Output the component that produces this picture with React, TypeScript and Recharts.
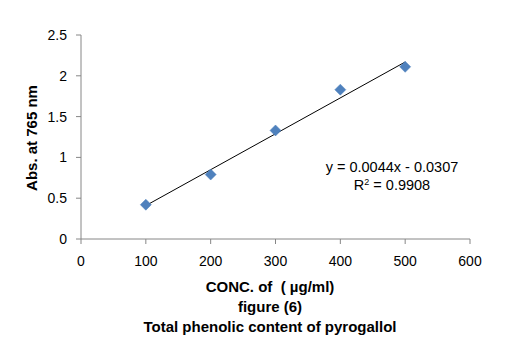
import React from "react";
import { ScatterChart, Scatter, XAxis, YAxis } from "recharts";

const concValues = [100, 200, 300, 400, 500];
const absValues = [0.42, 0.79, 1.33, 1.83, 2.11];
const xTicks = [0, 100, 200, 300, 400, 500, 600];
const yTicks = [0, 0.5, 1, 1.5, 2, 2.5];
const trendX = [100, 500];
const trendY = [0.4093, 2.1693];
const equationText = "y = 0.0044x - 0.0307";
const r2Value = "0.9908";
const xTitle = "CONC. of  ( µg/ml)";
const figureLabel = "figure (6)";
const captionText = "Total phenolic content of pyrogallol";
const yTitle = "Abs. at 765 nm";

const points = concValues.map((x, i) => ({ x, y: absValues[i] }));
const trend = trendX.map((x, i) => ({ x, y: trendY[i] }));

const FONT = "'Liberation Sans', Arial, sans-serif";
const AXIS = "#868686";

const Diamond = (props: any) => {
  const { cx, cy } = props;
  const r = 5.5;
  return (
    <polygon
      points={`${cx},${cy - r} ${cx + r},${cy} ${cx},${cy + r} ${cx - r},${cy}`}
      fill="#4F81BD"
      stroke="#4A7EBB"
      strokeWidth={0.5}
    />
  );
};

const YTitle = (props: any) => {
  const vb = props.viewBox || {};
  const x = vb.x + 31;
  const y = vb.y + vb.height / 2 + 1;
  return (
    <text
      x={x}
      y={y}
      transform={`rotate(-90, ${x}, ${y})`}
      textAnchor="middle"
      dominantBaseline="central"
      fontFamily={FONT}
      fontWeight="bold"
      fontSize={15}
      fill="#000"
    >
      {yTitle}
    </text>
  );
};

export default function App() {
  return (
    <div style={{ position: "absolute", left: 0, top: 0, width: 527, height: 346, background: "#fff" }}>
      <ScatterChart
        width={527}
        height={346}
        margin={{ top: 35, right: 57, bottom: 77, left: 0 }}
      >
        <XAxis
          type="number"
          dataKey="x"
          domain={[0, 600]}
          ticks={xTicks}
          interval={0}
          height={30}
          axisLine={{ stroke: AXIS }}
          tickLine={{ stroke: AXIS }}
          tickSize={5}
          tickMargin={12}
          tick={{ fill: "#000", fontSize: 14, fontFamily: FONT }}
        />
        <YAxis
          type="number"
          dataKey="y"
          domain={[0, 2.5]}
          ticks={yTicks}
          interval={0}
          width={81}
          axisLine={{ stroke: AXIS }}
          tickLine={{ stroke: AXIS }}
          tickSize={5}
          tickMargin={9}
          tick={{ fill: "#000", fontSize: 14, fontFamily: FONT }}
          label={<YTitle />}
        />
        <Scatter
          data={trend}
          line={{ stroke: "#000", strokeWidth: 1 }}
          shape={() => null}
          isAnimationActive={false}
        />
        <Scatter data={points} shape={<Diamond />} isAnimationActive={false} />
      </ScatterChart>
      <div
        style={{
          position: "absolute",
          left: 392 - 100,
          top: 158,
          width: 200,
          textAlign: "center",
          fontFamily: FONT,
          fontSize: 14.5,
          lineHeight: "18px",
          color: "#000",
        }}
      >
        <div>{equationText}</div>
        <div>
          R<sup style={{ fontSize: 9, verticalAlign: "5px", lineHeight: 0 }}>2</sup> = {r2Value}
        </div>
      </div>
      <div
        style={{
          position: "absolute",
          left: 270 - 200,
          top: 277,
          width: 400,
          textAlign: "center",
          fontFamily: FONT,
          fontWeight: "bold",
          fontSize: 15,
          lineHeight: "20px",
          color: "#000",
          whiteSpace: "pre",
        }}
      >
        <div>{xTitle}</div>
        <div>{figureLabel}</div>
        <div>{captionText}</div>
      </div>
    </div>
  );
}
